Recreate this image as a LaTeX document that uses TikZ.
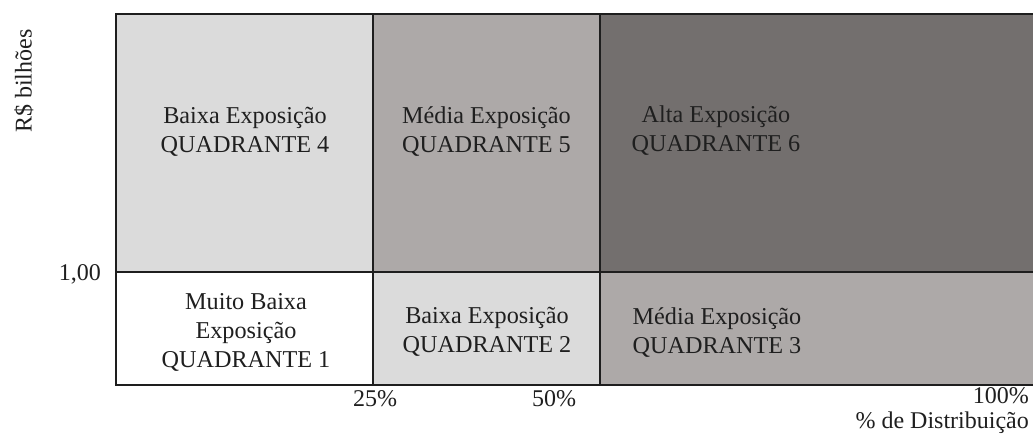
\documentclass[tikz,border=0pt]{standalone}
\usepackage{fontspec}
\setmainfont{Liberation Serif}
\definecolor{qlight}{HTML}{DBDBDB}
\definecolor{qmid}{HTML}{ADA9A8}
\definecolor{qdark}{HTML}{736F6E}
\definecolor{lineq}{HTML}{1E1E1E}
\begin{document}
\begin{tikzpicture}[x=1pt,y=-1pt,
  lbl/.style={font=\fontsize{24.2}{29}\selectfont, align=center, inner sep=0pt, text=black!88},
  axl/.style={font=\fontsize{24}{29}\selectfont, inner sep=0pt, text=black!88},
  grid/.style={draw=lineq, line width=1.8pt}]
\useasboundingbox (0,0) rectangle (1033,441);
\fill[white] (0,0) rectangle (1033,441);
% corners
\coordinate (tl) at (116,14);
\coordinate (ml) at (116,272);
\coordinate (bl) at (116,385);
\coordinate (tr) at (1034,14);
\coordinate (mr) at (1034,272);
\coordinate (br) at (1034,385);
\coordinate (ta) at (373,14);
\coordinate (ba) at (373,385);
\coordinate (tb) at (600,14);
\coordinate (bb) at (600,385);
\coordinate (ma) at (373,272);
\coordinate (mb) at (600,272);
% fills
\fill[qlight] (tl) rectangle (ma);
\fill[qmid] (ta) rectangle (mb);
\fill[qdark] (tb) rectangle (mr);
\fill[white] (ml) rectangle (ba);
\fill[qlight] (ma) rectangle (bb);
\fill[qmid] (mb) rectangle (br);
% lines
\draw[grid] (tr) -- (tl) -- (bl) -- (br);
\draw[grid] (ml) -- (mr);
\draw[grid] (ta) -- (ba);
\draw[grid] (tb) -- (bb);
% quadrant labels
\node[lbl] (q4) at (245,132) {Baixa Exposição\\QUADRANTE 4};
\node[lbl] (q5) at (486.5,132) {Média Exposição\\QUADRANTE 5};
\node[lbl] (q6) at (716,131) {Alta Exposição\\QUADRANTE 6};
\node[lbl] (q1) at (246,332) {Muito Baixa\\Exposição\\QUADRANTE 1};
\node[lbl] (q2) at (487,332) {Baixa Exposição\\QUADRANTE 2};
\node[lbl] (q3) at (717,333) {Média Exposição\\QUADRANTE 3};
% axis labels
\node[axl, rotate=90, anchor=base west] (ylab) at (31.5,133) {R\$ bilhões};
\node[axl, anchor=base east] (yval) at (101,280) {1,00};
\node[axl, anchor=base] (x25) at (375,406) {25\%};
\node[axl, anchor=base] (x50) at (554,406) {50\%};
\node[axl, anchor=base east] (x100) at (1029,403) {100\%};
\node[axl, anchor=base east] (xlab) at (1029,428) {\% de Distribuição};
\end{tikzpicture}
\end{document}
